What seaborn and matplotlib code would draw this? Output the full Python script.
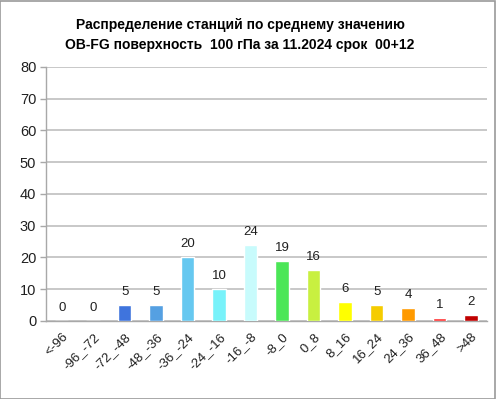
import numpy as np
import seaborn as sns
from matplotlib import pyplot as plt
from matplotlib.patches import Rectangle

# bins of OB-FG and number of stations in each
categories = ['<-96', '-96_-72', '-72_-48', '-48_-36', '-36_-24', '-24_-16', '-16_-8',
              '-8_0', '0_8', '8_16', '16_24', '24_36', '36_48', '>48']
counts = [0, 0, 5, 5, 20, 10, 24, 19, 16, 6, 5, 4, 1, 2]
colors = ['#3a6fd8', '#3a6fd8', '#3f74dd', '#55a0e2', '#66c8f0', '#78f2fa', '#c8fbfc',
          '#4be657', '#c8f040', '#ffff00', '#f5cc00', '#ff9a00', '#ff3030', '#c00000']

title = 'Распределение станций по среднему значению\nOB-FG поверхность  100 гПа за 11.2024 срок  00+12'

sns.set_style('white')
plt.rcParams['font.family'] = ['Liberation Sans', 'DejaVu Sans']

fig = plt.figure(figsize=(4.96, 3.99), dpi=100)
ax = fig.add_axes([0.0927, 0.1955, 0.889, 0.637])

sns.barplot(x=categories, y=counts, hue=categories, palette=colors, legend=False,
            width=0.43, saturation=1, ax=ax, zorder=3)

ax.set_ylim(0, 80)
ax.set_xlim(-0.5, len(categories) - 0.5)
ax.set_yticks(range(0, 81, 10))
ax.yaxis.grid(True, color='#c4c4c4', linewidth=1.3, zorder=0)
ax.set_axisbelow(True)

for sp in ['top', 'right']:
    ax.spines[sp].set_visible(False)
for sp in ['left', 'bottom']:
    ax.spines[sp].set_color('#a8a8a8')
    ax.spines[sp].set_linewidth(1.0)

ax.set_xticks(range(len(categories)))
ax.set_xticklabels(categories, rotation=45, ha='right', rotation_mode='anchor')
ax.set_xticks(np.arange(-0.5, len(categories), 1), minor=True)
ax.tick_params(axis='x', which='major', length=0, pad=7, labelsize=9.5, labelcolor='#202020')
ax.tick_params(axis='x', which='minor', length=5, color='#a8a8a8', width=1)
ax.tick_params(axis='y', length=4, color='#a8a8a8', width=1, labelsize=10.5,
               labelcolor='#202020', pad=3, left=True)
ax.set_xlabel('')
ax.set_ylabel('')

for i, v in enumerate(counts):
    ax.text(i, v + 2.2, str(v), ha='center', va='bottom', fontsize=9.5, color='#202020')

fig.text(0.484, 0.912, title, ha='center', va='center', fontsize=10,
         fontweight='bold', linespacing=1.55, color='#000000')

fig.patches.append(Rectangle((0.001, 0.001), 0.996, 0.996, transform=fig.transFigure,
                             fill=False, edgecolor='#9a9a9a', linewidth=1.2))

fig.savefig('out.png', dpi=100)
